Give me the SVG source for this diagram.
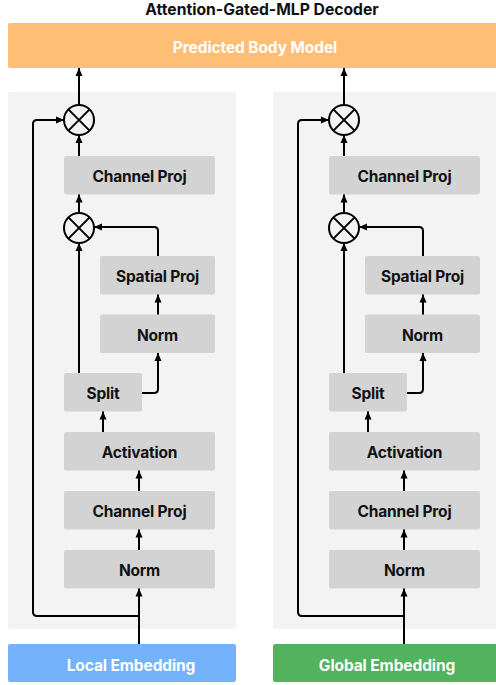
<svg xmlns="http://www.w3.org/2000/svg" width="496" height="685" viewBox="0 0 496 685">
<defs>
<marker id="ah" markerUnits="userSpaceOnUse" markerWidth="9" markerHeight="8" refX="8" refY="4" orient="auto">
<path d="M0,0.5 L8,4 L0,7.5 z" fill="#000"/>
</marker>
<style>
.panel{fill:#f3f3f3}
.box{fill:#d3d3d3}
.lbl{font-family:Inter,"Liberation Sans",sans-serif;font-weight:700;font-size:15.5px;letter-spacing:-0.2px;fill:#111;text-anchor:middle}
.wl{font-family:Inter,"Liberation Sans",sans-serif;font-weight:700;font-size:15.5px;letter-spacing:-0.1px;fill:#fff;text-anchor:middle}
.title{font-family:Inter,"Liberation Sans",sans-serif;font-weight:700;font-size:15.7px;fill:#111;text-anchor:middle}
.c{fill:none;stroke:#000;stroke-width:2}
.a{fill:none;stroke:#000;stroke-width:2;marker-end:url(#ah)}
.op{fill:#f3f3f3;stroke:#000;stroke-width:2}
</style>
</defs>
<rect width="496" height="685" fill="#fff"/>
<text class="title" x="262" y="14.5">Attention-Gated-MLP Decoder</text>
<g id="predicted">
<rect x="8" y="23" width="493" height="45" rx="2" fill="#ffbe76"/>
<text class="wl" x="255" y="53">Predicted Body Model</text>
</g>
<g id="panel-left"><rect class="panel" x="8" y="92" width="228" height="537" rx="2"/></g>
<g id="panel-right"><rect class="panel" x="273" y="92" width="228" height="537" rx="2"/></g>
<g id="local-emb">
<rect x="8" y="644" width="228" height="38" rx="2" fill="#74b3fb"/>
<text class="wl" x="131" y="670.5">Local Embedding</text>
</g>
<g id="global-emb">
<rect x="273" y="644" width="228" height="38" rx="2" fill="#52b25d"/>
<text class="wl" x="387" y="670.5">Global Embedding</text>
</g>
<g id="L">
<g id="L-mul1"><circle class="op" cx="79" cy="120" r="15"/><path class="c" d="M68.4,109.4 L89.6,130.6 M89.6,109.4 L68.4,130.6"/></g>
<g id="L-chproj2"><rect class="box" x="64" y="156" width="151" height="38.5" rx="2"/><text class="lbl" x="139.5" y="182">Channel Proj</text></g>
<g id="L-mul2"><circle class="op" cx="79" cy="228" r="15"/><path class="c" d="M68.4,217.4 L89.6,238.6 M89.6,217.4 L68.4,238.6"/></g>
<g id="L-spproj"><rect class="box" x="100" y="256" width="115" height="38.5" rx="2"/><text class="lbl" x="157.5" y="282">Spatial Proj</text></g>
<g id="L-norm2"><rect class="box" x="100" y="314.5" width="115" height="38.5" rx="2"/><text class="lbl" x="157.5" y="340.5">Norm</text></g>
<g id="L-split"><rect class="box" x="64" y="373" width="78" height="38.5" rx="2"/><text class="lbl" x="103" y="399">Split</text></g>
<g id="L-act"><rect class="box" x="64" y="432" width="151" height="38.5" rx="2"/><text class="lbl" x="139.5" y="458">Activation</text></g>
<g id="L-chproj1"><rect class="box" x="64" y="491" width="151" height="38.5" rx="2"/><text class="lbl" x="139.5" y="517">Channel Proj</text></g>
<g id="L-norm1"><rect class="box" x="64" y="550" width="151" height="38.5" rx="2"/><text class="lbl" x="139.5" y="576">Norm</text></g>
</g>
<g id="R" transform="translate(265,0)">
<g id="R-mul1"><circle class="op" cx="79" cy="120" r="15"/><path class="c" d="M68.4,109.4 L89.6,130.6 M89.6,109.4 L68.4,130.6"/></g>
<g id="R-chproj2"><rect class="box" x="64" y="156" width="151" height="38.5" rx="2"/><text class="lbl" x="139.5" y="182">Channel Proj</text></g>
<g id="R-mul2"><circle class="op" cx="79" cy="228" r="15"/><path class="c" d="M68.4,217.4 L89.6,238.6 M89.6,217.4 L68.4,238.6"/></g>
<g id="R-spproj"><rect class="box" x="100" y="256" width="115" height="38.5" rx="2"/><text class="lbl" x="157.5" y="282">Spatial Proj</text></g>
<g id="R-norm2"><rect class="box" x="100" y="314.5" width="115" height="38.5" rx="2"/><text class="lbl" x="157.5" y="340.5">Norm</text></g>
<g id="R-split"><rect class="box" x="64" y="373" width="78" height="38.5" rx="2"/><text class="lbl" x="103" y="399">Split</text></g>
<g id="R-act"><rect class="box" x="64" y="432" width="151" height="38.5" rx="2"/><text class="lbl" x="139.5" y="458">Activation</text></g>
<g id="R-chproj1"><rect class="box" x="64" y="491" width="151" height="38.5" rx="2"/><text class="lbl" x="139.5" y="517">Channel Proj</text></g>
<g id="R-norm1"><rect class="box" x="64" y="550" width="151" height="38.5" rx="2"/><text class="lbl" x="139.5" y="576">Norm</text></g>
</g>
<g id="connectors">
<g id="conn-left">
<path class="a" d="M79,105 V68"/>
<path class="a" d="M139,644 V588.5"/>
<path class="a" d="M139,616 H37 Q33,616 33,612 V124 Q33,120 37,120 H64"/>
<path class="a" d="M79,156 V135"/>
<path class="a" d="M79,213 V194.5"/>
<path class="a" d="M79,373 V243"/>
<path class="a" d="M158,256 V231 Q158,227 154,227 H94"/>
<path class="a" d="M142,393 H154 Q158,393 158,389 V353"/>
<path class="a" d="M158,314.5 V294.5"/>
<path class="a" d="M103,432 V411.5"/>
<path class="a" d="M139,491 V470.5"/>
<path class="a" d="M139,550 V529.5"/>
</g>
<g id="conn-right" transform="translate(265,0)">
<path class="a" d="M79,105 V68"/>
<path class="a" d="M139,644 V588.5"/>
<path class="a" d="M139,616 H37 Q33,616 33,612 V124 Q33,120 37,120 H64"/>
<path class="a" d="M79,156 V135"/>
<path class="a" d="M79,213 V194.5"/>
<path class="a" d="M79,373 V243"/>
<path class="a" d="M158,256 V231 Q158,227 154,227 H94"/>
<path class="a" d="M142,393 H154 Q158,393 158,389 V353"/>
<path class="a" d="M158,314.5 V294.5"/>
<path class="a" d="M103,432 V411.5"/>
<path class="a" d="M139,491 V470.5"/>
<path class="a" d="M139,550 V529.5"/>
</g>
</g>
</svg>
